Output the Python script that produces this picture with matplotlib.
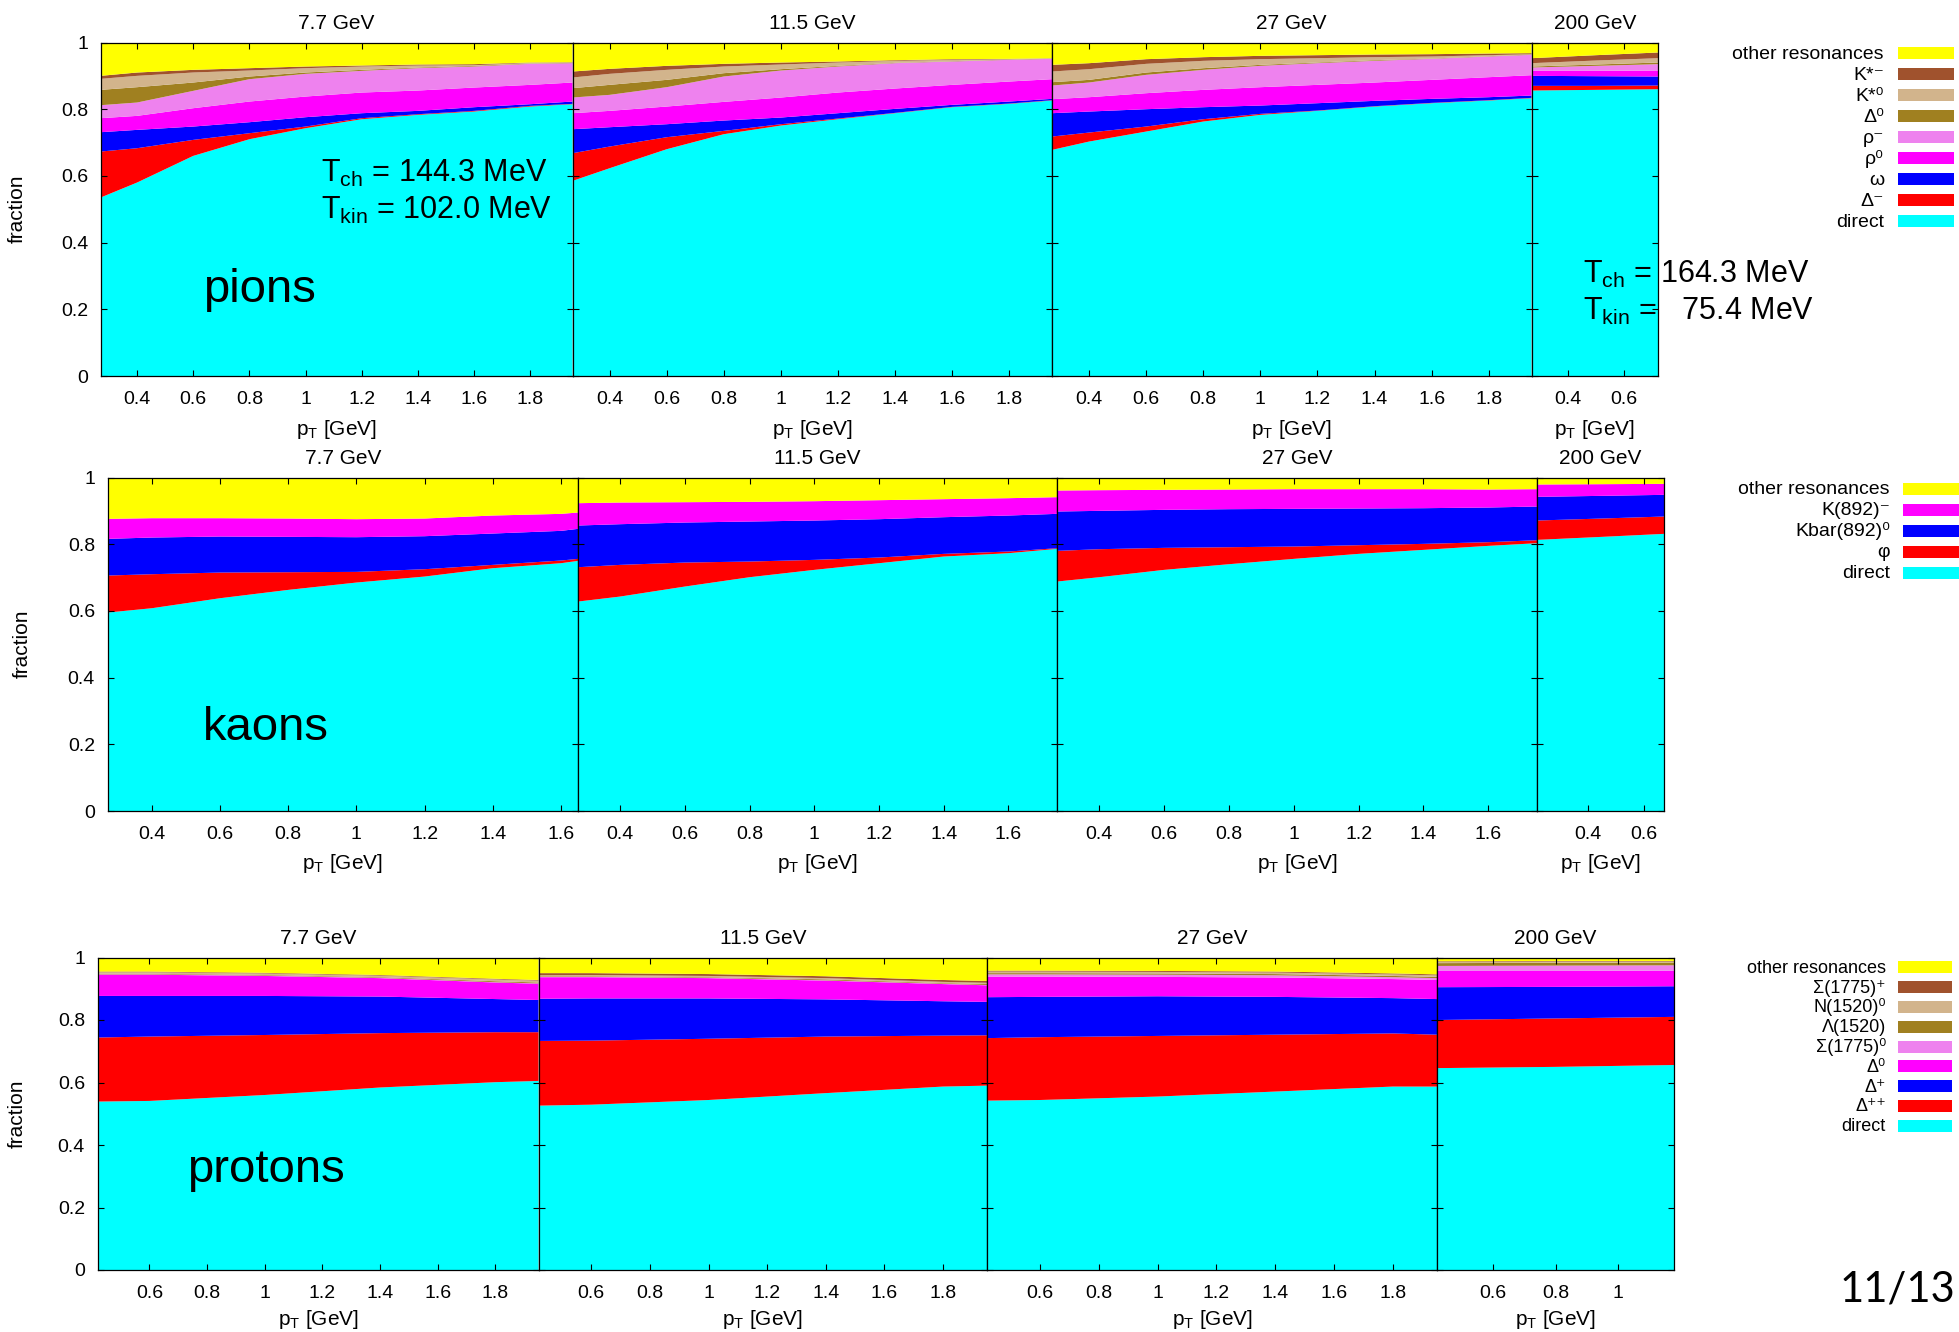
import matplotlib
matplotlib.use('Agg')
import matplotlib.pyplot as plt
from matplotlib.patches import Rectangle
from matplotlib.ticker import FixedLocator, FuncFormatter

plt.rcParams['font.family'] = ['Liberation Sans', 'DejaVu Sans']
plt.rcParams['mathtext.fontset'] = 'custom'
plt.rcParams['mathtext.rm'] = 'Liberation Sans'
plt.rcParams['mathtext.it'] = 'Liberation Sans:italic'
plt.rcParams['mathtext.bf'] = 'Liberation Sans:bold'
plt.rcParams['mathtext.default'] = 'regular'

ENERGIES = ['7.7 GeV', '11.5 GeV', '27 GeV', '200 GeV']

# ---------------------------------------------------------------------------
# Pions: cumulative fraction at the upper edge of each stacked channel,
# bottom to top: direct, Δ-, ω, ρ0, ρ-, Δ0, K*0, K*-  (other resonances fill to 1)
# ---------------------------------------------------------------------------
PT_PION = [0.27, 0.4, 0.6, 0.8, 1.0, 1.2, 1.4, 1.6, 1.8, 1.95]
PT_PION_200 = [0.27, 0.5, 0.72]

PION_7_7 = [
    [.535, .580, .660, .710, .743, .770, .783, .793, .808, .815],
    [.673, .683, .708, .728, .748, .773, .785, .795, .810, .816],
    [.731, .738, .748, .761, .776, .788, .795, .806, .815, .823],
    [.773, .780, .803, .823, .838, .850, .856, .865, .873, .880],
    [.812, .820, .855, .890, .906, .915, .923, .928, .936, .938],
    [.858, .866, .880, .898, .910, .918, .925, .930, .937, .939],
    [.891, .900, .910, .916, .923, .928, .931, .932, .939, .940],
    [.900, .910, .918, .923, .928, .931, .934, .935, .940, .941],
]
PION_11_5 = [
    [.585, .623, .680, .725, .751, .770, .788, .806, .816, .826],
    [.668, .688, .716, .735, .755, .772, .789, .807, .817, .827],
    [.740, .746, .755, .766, .775, .788, .801, .813, .823, .831],
    [.788, .795, .808, .822, .835, .850, .862, .873, .883, .890],
    [.835, .843, .866, .898, .916, .928, .938, .943, .948, .951],
    [.863, .873, .888, .908, .920, .930, .939, .944, .949, .952],
    [.895, .906, .918, .928, .934, .940, .945, .948, .950, .953],
    [.913, .921, .930, .936, .940, .943, .947, .950, .951, .953],
]
PION_27 = [
    [.678, .703, .733, .763, .783, .795, .808, .818, .826, .833],
    [.718, .730, .748, .770, .786, .796, .809, .819, .827, .834],
    [.788, .793, .800, .806, .811, .818, .825, .831, .836, .841],
    [.830, .836, .848, .858, .866, .873, .880, .888, .896, .902],
    [.871, .880, .903, .918, .930, .938, .945, .951, .958, .963],
    [.881, .888, .910, .923, .933, .940, .947, .952, .959, .964],
    [.913, .920, .936, .945, .950, .953, .956, .958, .962, .965],
    [.933, .938, .950, .956, .960, .962, .964, .965, .967, .968],
]
PION_200 = [
    [.856, .858, .860],
    [.870, .870, .871],
    [.900, .899, .898],
    [.915, .915, .916],
    [.925, .930, .935],
    [.928, .934, .940],
    [.938, .946, .953],
    [.953, .962, .970],
]

# ---------------------------------------------------------------------------
# Kaons: bottom to top: direct, φ, Kbar(892)0, K(892)-  (other resonances fill to 1)
# ---------------------------------------------------------------------------
PT_KAON_7_7 = [0.27, 0.4, 0.6, 0.8, 1.0, 1.2, 1.4, 1.6, 1.65]
PT_KAON = [0.27, 0.4, 0.6, 0.8, 1.0, 1.2, 1.4, 1.6, 1.75]
PT_KAON_200 = [0.22, 0.45, 0.67]

KAON_7_7 = [
    [.595, .608, .638, .663, .685, .703, .728, .743, .750],
    [.706, .710, .715, .716, .717, .725, .738, .751, .756],
    [.816, .820, .823, .822, .821, .824, .832, .840, .846],
    [.876, .878, .878, .877, .875, .877, .886, .891, .895],
]
KAON_11_5 = [
    [.628, .643, .673, .701, .723, .743, .763, .773, .786],
    [.731, .738, .745, .748, .753, .760, .771, .778, .788],
    [.856, .860, .865, .868, .871, .875, .881, .886, .891],
    [.923, .925, .926, .927, .929, .932, .935, .938, .941],
]
KAON_27 = [
    [.688, .701, .723, .740, .756, .771, .783, .795, .803],
    [.780, .785, .789, .791, .793, .797, .801, .806, .812],
    [.898, .900, .903, .905, .906, .907, .908, .910, .913],
    [.961, .962, .963, .964, .965, .965, .965, .964, .965],
]
KAON_200 = [
    [.813, .822, .831],
    [.871, .877, .883],
    [.942, .945, .948],
    [.979, .980, .981],
]

# ---------------------------------------------------------------------------
# Protons: bottom to top: direct, Δ++, Δ+, Δ0, Σ(1775)0, Λ(1520), N(1520)0,
# Σ(1775)+  (other resonances fill to 1)
# ---------------------------------------------------------------------------
PT_PROTON = [0.42, 0.6, 1.0, 1.4, 1.8, 1.95]
PT_PROTON_200 = [0.42, 0.8, 1.18]

PROTON_7_7 = [
    [.539, .541, .560, .584, .601, .605],
    [.744, .747, .752, .758, .761, .761],
    [.877, .877, .877, .875, .867, .864],
    [.945, .945, .941, .934, .920, .916],
    [.946, .946, .942, .935, .921, .917],
    [.948, .948, .944, .937, .924, .920],
    [.953, .953, .949, .942, .930, .926],
    [.955, .955, .951, .944, .932, .928],
]
PROTON_11_5 = [
    [.526, .529, .544, .566, .587, .590],
    [.733, .734, .740, .747, .750, .751],
    [.868, .869, .869, .866, .860, .858],
    [.937, .937, .934, .926, .915, .911],
    [.938, .938, .935, .927, .916, .912],
    [.940, .940, .937, .930, .918, .915],
    [.943, .944, .941, .934, .922, .919],
    [.950, .950, .947, .940, .928, .925],
]
PROTON_27 = [
    [.542, .544, .555, .571, .587, .587],
    [.742, .745, .749, .753, .757, .753],
    [.873, .874, .876, .874, .870, .867],
    [.939, .939, .938, .936, .931, .928],
    [.946, .946, .945, .943, .937, .934],
    [.950, .950, .949, .947, .941, .938],
    [.955, .955, .954, .952, .946, .943],
    [.958, .958, .957, .955, .949, .946],
]
PROTON_200 = [
    [.646, .650, .656],
    [.800, .805, .810],
    [.905, .906, .908],
    [.957, .957, .958],
    [.973, .974, .975],
    [.982, .983, .984],
    [.986, .987, .987],
    [.988, .989, .989],
]

# key labels, listed top to bottom
PION_KEYS = ['other resonances', 'K*⁻', 'K*⁰', 'Δ⁰', 'ρ⁻', 'ρ⁰', 'ω', 'Δ⁻', 'direct']
KAON_KEYS = ['other resonances', 'K(892)⁻', 'Kbar(892)⁰', 'φ', 'direct']
PROTON_KEYS = ['other resonances', 'Σ(1775)⁺', 'N(1520)⁰', 'Λ(1520)', 'Σ(1775)⁰',
               'Δ⁰', 'Δ⁺', 'Δ⁺⁺', 'direct']

# colours of the stacked bands, bottom to top
CYAN, RED, BLUE, MAGENTA = '#00ffff', '#ff0000', '#0000ff', '#ff00ff'
VIOLET, OLIVE, TAN, SIENNA, YELLOW = '#ee82ee', '#a08020', '#d2b48c', '#a0522d', '#ffff00'
BARYON_MESON_COLORS = [CYAN, RED, BLUE, MAGENTA, VIOLET, OLIVE, TAN, SIENNA]
KAON_COLORS = [CYAN, RED, BLUE, MAGENTA]

W, H = 1959, 1332
fig = plt.figure(figsize=(W / 100, H / 100), dpi=100)
fig.patch.set_facecolor('white')

fmt = FuncFormatter(lambda v, p: f'{v:g}')


def px_axes(x0, x1, top, bottom):
    return fig.add_axes([x0 / W, 1 - bottom / H, (x1 - x0) / W, (bottom - top) / H])


def draw_row(top, bottom, edges, pts, stacks, colors, xlims, xticks, label_drop):
    for i in range(4):
        ax = px_axes(edges[i], edges[i + 1], top, bottom)
        pt = pts[i]
        lower = [0.0] * len(pt)
        for upper, col in zip(stacks[i], colors):
            ax.fill_between(pt, lower, upper, facecolor=col, lw=0)
            lower = upper
        ax.fill_between(pt, lower, [1.0] * len(pt), facecolor=YELLOW, lw=0)
        ax.set_xlim(*xlims[i])
        ax.set_ylim(0, 1)
        ax.xaxis.set_major_locator(FixedLocator(xticks[i]))
        ax.yaxis.set_major_locator(FixedLocator([0, 0.2, 0.4, 0.6, 0.8, 1.0]))
        ax.xaxis.set_major_formatter(fmt)
        ax.yaxis.set_major_formatter(fmt)
        ax.tick_params(direction='in', length=4.5, width=0.8, top=True, right=True,
                       labelsize=14, colors='black')
        ax.tick_params(axis='x', pad=11)
        ax.tick_params(axis='y', pad=9, labelleft=(i == 0))
        for s in ax.spines.values():
            s.set_linewidth(0.9)
            s.set_zorder(5)
        ax.set_title(ENERGIES[i], fontsize=15, pad=9.5)
        ax.set_xlabel('p$_{T}$ [GeV]', fontsize=15, va='baseline')
        ax.xaxis.set_label_coords(0.5, -label_drop / (bottom - top))


def draw_key(labels, colors, x_text, x0, x1, y_first, dy, size, h=12):
    for i, (lab, col) in enumerate(zip(labels, colors)):
        y = y_first + i * dy
        fig.text(x_text / W, 1 - (y + 5.5) / H, lab, ha='right', va='baseline',
                 fontsize=size)
        fig.add_artist(Rectangle((x0 / W, 1 - (y + h / 2) / H), (x1 - x0) / W, h / H,
                                 transform=fig.transFigure, facecolor=col,
                                 edgecolor='none'))


KEY_COLORS_9 = [YELLOW, SIENNA, TAN, OLIVE, VIOLET, MAGENTA, BLUE, RED, CYAN]
KEY_COLORS_5 = [YELLOW, MAGENTA, BLUE, RED, CYAN]

# pions row
draw_row(42.5, 376, [100.5, 572.5, 1052, 1531.5, 1658],
         [PT_PION, PT_PION, PT_PION, PT_PION_200],
         [PION_7_7, PION_11_5, PION_27, PION_200], BARYON_MESON_COLORS,
         [(0.27, 1.95)] * 3 + [(0.27, 0.72)],
         [[0.4, 0.6, 0.8, 1.0, 1.2, 1.4, 1.6, 1.8]] * 3 + [[0.4, 0.6]], 59)

# kaons row
draw_row(477.5, 811, [107.5, 578, 1057, 1537, 1664],
         [PT_KAON_7_7, PT_KAON, PT_KAON, PT_KAON_200],
         [KAON_7_7, KAON_11_5, KAON_27, KAON_200], KAON_COLORS,
         [(0.27, 1.65), (0.27, 1.75), (0.27, 1.75), (0.22, 0.67)],
         [[0.4, 0.6, 0.8, 1.0, 1.2, 1.4, 1.6]] * 3 + [[0.4, 0.6]], 58)

# protons row
draw_row(957.5, 1270, [97.5, 538.5, 987, 1437, 1674],
         [PT_PROTON, PT_PROTON, PT_PROTON, PT_PROTON_200],
         [PROTON_7_7, PROTON_11_5, PROTON_27, PROTON_200], BARYON_MESON_COLORS,
         [(0.42, 1.95)] * 3 + [(0.42, 1.18)],
         [[0.6, 0.8, 1.0, 1.2, 1.4, 1.6, 1.8]] * 3 + [[0.6, 0.8, 1.0]], 55)

# y-axis labels
for x, yc in [(17, 209), (22, 644), (17, 1114)]:
    fig.text(x / W, 1 - yc / H, 'fraction', rotation=90, ha='center', va='center',
             fontsize=15)

# particle species
fig.text(203 / W, 1 - 302 / H, 'pions', fontsize=34, ha='left', va='baseline')
fig.text(203 / W, 1 - 740 / H, 'kaons', fontsize=34, ha='left', va='baseline')
fig.text(187.5 / W, 1 - 1182 / H, 'protons', fontsize=34, ha='left', va='baseline')

# freeze-out temperatures
fig.text(321 / W, 1 - 182 / H, 'T$_{ch}$ = 144.3 MeV', fontsize=22, ha='left', va='baseline')
fig.text(321 / W, 1 - 219 / H, 'T$_{kin}$ = 102.0 MeV', fontsize=22, ha='left', va='baseline')
fig.text(1583 / W, 1 - 283 / H, 'T$_{ch}$ = 164.3 MeV', fontsize=22, ha='left',
         va='baseline', zorder=10)
fig.text(1583 / W, 1 - 320 / H, 'T$_{kin}$ =   75.4 MeV', fontsize=22, ha='left',
         va='baseline', zorder=10)

# keys
draw_key(PION_KEYS, KEY_COLORS_9, 1884, 1898, 1954, 53.3, 21.0, 14)
draw_key(KAON_KEYS, KEY_COLORS_5, 1890, 1903, 1962, 489, 20.9, 14)
draw_key(PROTON_KEYS, KEY_COLORS_9, 1886, 1898, 1952, 967.3, 19.8, 13)

# page number, kept inside the right edge
fig.text(1955 / W, 1 - 1301 / H, '11/13', fontsize=30, family=['Lato', 'DejaVu Sans'],
         ha='right', va='baseline')

fig.savefig('out.png', dpi=100, facecolor='white')
